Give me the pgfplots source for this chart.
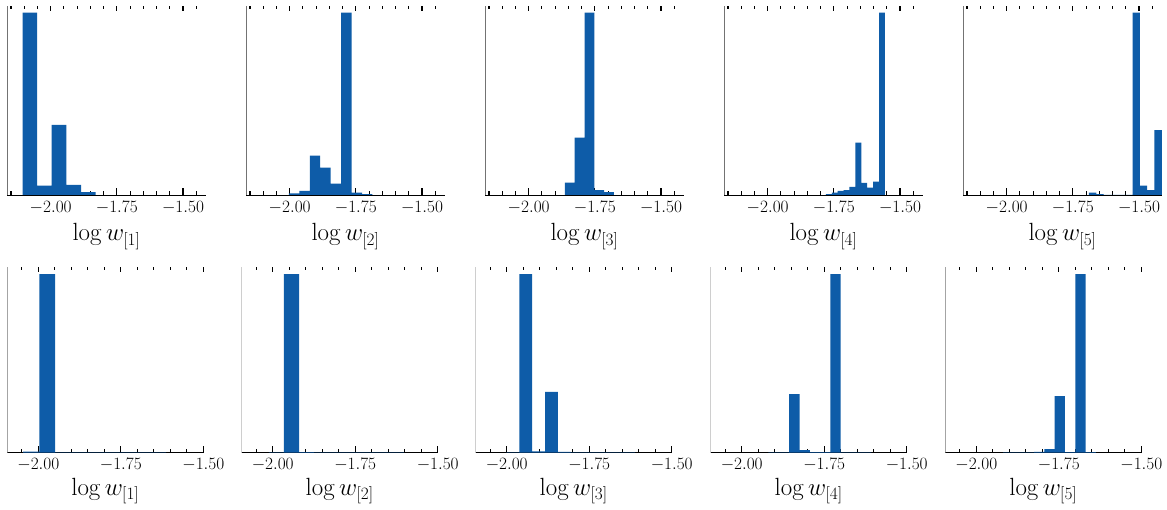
\documentclass[border=0pt]{standalone}
\usepackage{pgfplots}
\pgfplotsset{compat=1.18}
\definecolor{barblue}{RGB}{14,92,168}
\pgfplotsset{
  hist/.style={
    scale only axis, anchor=south west,
    separate axis lines,
    x axis line style={black, line width=0.9pt},
    y axis line style={draw=none},
    ytick=\empty, ymin=0,
    xtick={-2,-1.75,-1.5}, xticklabels={$-2.00$,$-1.75$,$-1.50$},
    minor xtick={-2.15,-2.10,-2.05,-1.95,-1.90,-1.85,-1.80,-1.70,-1.65,-1.60,-1.55,-1.45},
    xtick pos=both, xticklabel pos=lower, tick align=inside,
    major tick length=6.5pt, minor tick length=4pt,
    tick style={black, line width=1.1pt},
    tick label style={font=\fontsize{16}{18}\selectfont},
    every axis x label/.style={at={(axis description cs:0.5,0)}, anchor=base,
      font=\fontsize{24.5}{28}\selectfont},
  },
  toprow/.style={hist, width=199pt, height=190pt, xmin=-2.165, xmax=-1.413, ymax=1.042,
    xticklabel shift=3pt, every axis x label/.append style={yshift=-45.8pt}},
  botrow/.style={hist, width=196pt, height=186.7pt, xmin=-2.094, xmax=-1.5, ymax=1.045,
    xticklabel shift=2pt, every axis x label/.append style={yshift=-42.6pt}},
}
\newcommand{\axlines}{%
  \draw[black!55, line width=1.5pt] (rel axis cs:0,0) -- (rel axis cs:0,1);}
\newcommand{\topcover}[1]{\draw[white, line width=2pt] ([xshift=-1pt]#1.north west) -- ([xshift=1pt]#1.north east);}
\begin{document}
\begin{tikzpicture}
\useasboundingbox (0,0) rectangle (1167pt,510pt);
% ---------- top row ----------
\begin{axis}[toprow, name=t1, at={(7pt,315pt)}, xlabel={$\log w_{[1]}$}]
\addplot[ybar interval, fill=barblue, draw=none] coordinates {(-2.106,1) (-2.051,0.051) (-1.996,0.384) (-1.941,0.055) (-1.885,0.016) (-1.830,0)};
\axlines
\end{axis}
\topcover{t1}
\begin{axis}[toprow, name=t2, at={(246pt,315pt)}, xlabel={$\log w_{[2]}$}]
\addplot[ybar interval, fill=barblue, draw=none] coordinates {(-2.003,0.009) (-1.9635,0.022) (-1.924,0.216) (-1.8845,0.150) (-1.845,0.062) (-1.8055,1) (-1.766,0.013) (-1.7265,0.005) (-1.687,0)};
\axlines
\end{axis}
\topcover{t2}
\begin{axis}[toprow, name=t3, at={(485pt,315pt)}, xlabel={$\log w_{[3]}$}]
\addplot[ybar interval, fill=barblue, draw=none] coordinates {(-1.863,0.068) (-1.826,0.314) (-1.789,1) (-1.752,0.027) (-1.715,0.016) (-1.678,0)};
\axlines
\end{axis}
\topcover{t3}
\begin{axis}[toprow, name=t4, at={(724pt,315pt)}, xlabel={$\log w_{[4]}$}]
\addplot[ybar interval, fill=barblue, draw=none] coordinates {(-1.780,0.005) (-1.7577,0.013) (-1.7354,0.022) (-1.7131,0.027) (-1.6908,0.044) (-1.6685,0.287) (-1.6462,0.066) (-1.6239,0.040) (-1.6016,0.073) (-1.5793,1) (-1.557,0)};
\axlines
\end{axis}
\topcover{t4}
\begin{axis}[toprow, name=t5, at={(963pt,315pt)}, xlabel={$\log w_{[5]}$}]
\addplot[ybar interval, fill=barblue, draw=none] coordinates {(-1.689,0.013) (-1.6615,0.005) (-1.634,0) (-1.6065,0) (-1.579,0) (-1.5515,0) (-1.524,1) (-1.4965,0.051) (-1.469,0.027) (-1.4415,0.356) (-1.414,0)};
\axlines
\end{axis}
\topcover{t5}
% ---------- bottom row ----------
\begin{axis}[botrow, name=b1, at={(7.3pt,57.3pt)}, xlabel={$\log w_{[1]}$}]
\addplot[ybar interval, fill=barblue, draw=none] coordinates {(-2.046,0.006) (-1.997,1) (-1.949,0.002) (-1.901,0.002) (-1.853,0.002) (-1.805,0.002) (-1.757,0.002) (-1.709,0.002) (-1.661,0.002) (-1.613,0)};
\axlines
\end{axis}
\topcover{b1}
\begin{axis}[botrow, name=b2, at={(241.7pt,57.3pt)}, xlabel={$\log w_{[2]}$}]
\addplot[ybar interval, fill=barblue, draw=none] coordinates {(-2.012,0.002) (-1.966,1) (-1.920,0.003) (-1.875,0.002) (-1.829,0.002) (-1.784,0.002) (-1.738,0.002) (-1.693,0.002) (-1.647,0.002) (-1.602,0)};
\axlines
\end{axis}
\topcover{b2}
\begin{axis}[botrow, name=b3, at={(475.7pt,57.3pt)}, xlabel={$\log w_{[3]}$}]
\addplot[ybar interval, fill=barblue, draw=none] coordinates {(-2.001,0.002) (-1.962,1) (-1.923,0.0075) (-1.884,0.34) (-1.845,0.004) (-1.806,0.002) (-1.767,0.002) (-1.728,0.002) (-1.689,0.002) (-1.650,0.002) (-1.611,0)};
\axlines
\end{axis}
\topcover{b3}
\begin{axis}[botrow, name=b4, at={(710.7pt,57.3pt)}, xlabel={$\log w_{[4]}$}]
\addplot[ybar interval, fill=barblue, draw=none] coordinates {(-1.919,0.002) (-1.8875,0.002) (-1.856,0.328) (-1.8247,0.015) (-1.7934,0.003) (-1.762,0.003) (-1.731,1) (-1.700,0.002) (-1.669,0.002) (-1.638,0.002) (-1.607,0)};
\axlines
\end{axis}
\topcover{b4}
\begin{axis}[botrow, name=b5, at={(945.3pt,57.3pt)}, xlabel={$\log w_{[5]}$}]
\addplot[ybar interval, fill=barblue, draw=none] coordinates {(-1.919,0.002) (-1.888,0.002) (-1.856,0.002) (-1.825,0.004) (-1.794,0.02) (-1.7627,0.317) (-1.7314,0.003) (-1.700,1) (-1.6688,0.003) (-1.6375,0)};
\axlines
\end{axis}
\topcover{b5}
\end{tikzpicture}
\end{document}
